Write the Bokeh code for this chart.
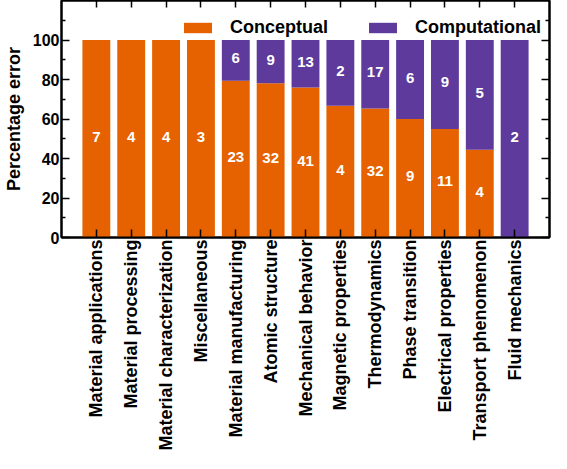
import math
from bokeh.plotting import figure
from bokeh.models import (FixedTicker, LinearAxis, Range1d, Legend, LegendItem,
                          ColumnDataSource)
from bokeh.core.properties import value
from bokeh.embed import file_html
from bokeh.resources import INLINE

categories = ["Material applications", "Material processing", "Material characterization",
              "Miscellaneous", "Material manufacturing", "Atomic structure",
              "Mechanical behavior", "Magnetic properties", "Thermodynamics",
              "Phase transition", "Electrical properties", "Transport phenomenon",
              "Fluid mechanics"]
conceptual = [7, 4, 4, 3, 23, 32, 41, 4, 32, 9, 11, 4, 0]
computational = [0, 0, 0, 0, 6, 9, 13, 2, 17, 6, 9, 5, 2]
y_ticks = [0, 20, 40, 60, 80, 100]
y_minor = [10, 30, 50, 70, 90, 110]

ORANGE = "#E66100"
PURPLE = "#5D3A9B"
FONT = "Liberation Sans"

xs = list(range(1, len(categories) + 1))
pct_c = [100.0 * c / (c + m) for c, m in zip(conceptual, computational)]
top_all = [100.0] * len(xs)

src = ColumnDataSource(dict(x=xs, pc=pct_c, top=top_all))

p = figure(width=551, height=453, x_range=Range1d(0, 14), y_range=Range1d(0, 120),
           output_backend="svg", toolbar_location=None,
           min_border_top=0, min_border_right=2, min_border_left=0, min_border_bottom=0)
p.xgrid.visible = False
p.ygrid.visible = False
p.outline_line_color = "black"
p.outline_line_width = 2

r1 = p.vbar(x="x", bottom=0, top="pc", width=0.8, source=src, fill_color=ORANGE, line_color=None)
r2 = p.vbar(x="x", bottom="pc", top="top", width=0.8, source=src, fill_color=PURPLE, line_color=None)

# value labels
lc = dict(x=[], y=[], t=[])
for x, c, m, pc in zip(xs, conceptual, computational, pct_c):
    if c > 0:
        lc["x"].append(x); lc["y"].append(pc / 2.0); lc["t"].append(str(c))
    if m > 0:
        lc["x"].append(x); lc["y"].append((pc + 100.0) / 2.0); lc["t"].append(str(m))
p.text(x="x", y="y", text="t", source=ColumnDataSource(lc), text_color="white",
       text_font=value(FONT), text_font_style="bold", text_font_size="15px",
       text_align="center", text_baseline="middle", y_offset=-2)

def style_axis(ax):
    ax.axis_line_width = 2
    ax.axis_line_color = "black"
    ax.major_tick_line_color = "black"
    ax.minor_tick_line_color = "black"
    ax.major_tick_line_width = 1.5
    ax.minor_tick_line_width = 1.5
    ax.major_tick_out = 0
    ax.major_tick_in = 8
    ax.minor_tick_out = 0
    ax.minor_tick_in = 4
    ax.major_label_text_color = "black"
    ax.axis_label_text_color = "black"

# left axis
yax = p.yaxis[0]
yax.ticker = FixedTicker(ticks=y_ticks, minor_ticks=y_minor)
style_axis(yax)
yax.axis_label = "Percentage error"
yax.axis_label_text_font = FONT
yax.axis_label_text_font_style = "bold"
yax.axis_label_text_font_size = "18px"
yax.axis_label_standoff = 6
yax.major_label_text_font = FONT
yax.major_label_text_font_style = "bold"
yax.major_label_text_font_size = "16px"
yax.major_label_standoff = 2

# bottom axis
xax = p.xaxis[0]
xax.ticker = FixedTicker(ticks=xs)
style_axis(xax)
xax.major_label_overrides = {x: c for x, c in zip(xs, categories)}
xax.major_label_orientation = math.pi / 2
xax.major_label_text_font = FONT
xax.major_label_text_font_style = "bold"
xax.major_label_text_font_size = "18px"
xax.major_label_standoff = 2

# right axis (ticks only)
rax = LinearAxis(ticker=FixedTicker(ticks=y_ticks, minor_ticks=y_minor))
style_axis(rax)
rax.major_label_overrides = {t: "" for t in y_ticks}
rax.major_label_text_font_size = "1px"
rax.major_label_standoff = 0
p.add_layout(rax, "right")

# top axis (ticks only)
tax = LinearAxis(ticker=FixedTicker(ticks=xs))
style_axis(tax)
tax.major_tick_in = 7
tax.major_label_overrides = {x: "" for x in xs}
tax.major_label_text_font_size = "1px"
tax.major_label_standoff = 0
p.add_layout(tax, "above")

legend = Legend(items=[LegendItem(label="Conceptual", renderers=[r1]),
                       LegendItem(label="Computational", renderers=[r2])],
                orientation="horizontal", location=(119, 199),
                border_line_color=None, background_fill_alpha=0,
                padding=2, margin=0, spacing=37, label_standoff=15,
                glyph_width=35, glyph_height=13, label_height=20,
                label_text_font=FONT, label_text_font_style="bold",
                label_text_font_size="18px", label_text_color="black")
p.add_layout(legend)

open("out.html", "w").write(file_html(p, INLINE))
